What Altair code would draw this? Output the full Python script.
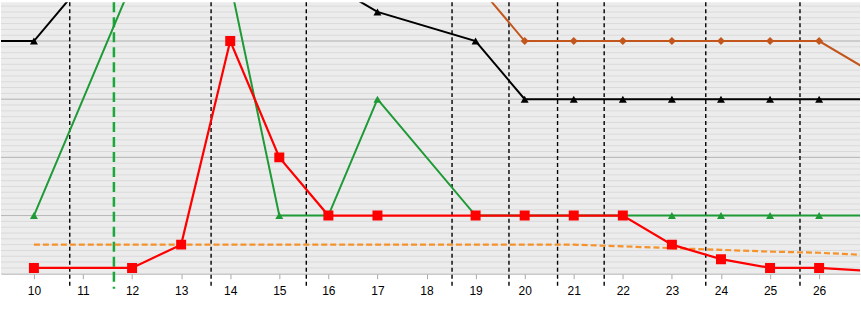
import altair as alt
import pandas as pd

# ---- data ----
red_x = [10, 12, 13, 14, 15, 16, 17, 19, 20, 21, 22, 23, 24, 25, 26, 27]
red_y = [1, 1, 5, 40, 20, 10, 10, 10, 10, 10, 10, 5, 2.5, 1, 1, 0.5]

green_x = [10, 12, 14, 15, 16, 17, 19, 20, 21, 22, 23, 24, 25, 26, 27]
green_y = [10, 50, 50, 10, 10, 30, 10, 10, 10, 10, 10, 10, 10, 10, 10]

black_x = [9, 10, 11, 16, 17, 19, 20, 21, 22, 23, 24, 25, 26, 27]
black_y = [40, 40, 50, 50, 45, 40, 30, 30, 30, 30, 30, 30, 30, 30]

brown_x = [19, 20, 21, 22, 23, 24, 25, 26, 27]
brown_y = [50, 40, 40, 40, 40, 40, 40, 40, 35]

avg_x = [10, 11, 12, 13, 14, 15, 16, 17, 18, 19, 20, 21, 22, 23, 24, 25, 26, 27]
avg_y = [5, 5, 5, 5, 5, 5, 5, 5, 5, 5, 5, 5, 4.7, 4.4, 4.1, 3.8, 3.6, 3.2]

event_x = [10.73, 13.61, 15.55, 18.52, 19.68, 20.67, 21.62, 23.69, 25.61]
today_x = [11.63]

tick_values = list(range(10, 27))
minor_grid = list(range(0, 47))
major_grid = [10, 20, 30, 40]

X_DOMAIN = [9.329, 26.833]
Y_DOMAIN = [0, 46.65]

xs = alt.Scale(domain=X_DOMAIN, nice=False, zero=False)
ys = alt.Scale(domain=Y_DOMAIN, nice=False, zero=False)

x_axis = alt.Axis(
    values=tick_values,
    grid=False,
    title=None,
    domainColor="#b0b0b0",
    tickColor="#a8a8a8",
    tickSize=5,
    labelFont="Liberation Sans",
    labelFontSize=12,
    labelColor="#000000",
    labelPadding=7,
    labelFlush=False,
    labelOverlap=False,
)


def df(x, y):
    return pd.DataFrame({"x": x, "y": y})


base_x = alt.X("x:Q", scale=xs, axis=x_axis)

# grid
minor = alt.Chart(pd.DataFrame({"g": minor_grid})).mark_rule(
    color="#dadada", strokeWidth=1
).encode(y=alt.Y("g:Q", scale=ys, axis=None))
major = alt.Chart(pd.DataFrame({"g": major_grid})).mark_rule(
    color="#b8b8b8", strokeWidth=1
).encode(y=alt.Y("g:Q", scale=ys, axis=None))


def series(x, y, color, shape=None, size=None, dash=None, width=2):
    line_kw = dict(color=color, strokeWidth=width, clip=True)
    if dash:
        line_kw["strokeDash"] = dash
    layers = [alt.Chart(df(x, y)).mark_line(**line_kw).encode(
        x=base_x, y=alt.Y("y:Q", scale=ys, axis=None))]
    if shape:
        layers.append(alt.Chart(df(x, y)).mark_point(
            shape=shape, size=size, filled=True, color=color, opacity=1, clip=True
        ).encode(x=base_x, y=alt.Y("y:Q", scale=ys, axis=None)))
    return layers


events = alt.Chart(pd.DataFrame({"x": event_x})).mark_rule(
    color="#000000", strokeWidth=1.4, strokeDash=[4, 3]
).encode(x=base_x, y=alt.value(0), y2=alt.value(286))

today = alt.Chart(pd.DataFrame({"x": today_x})).mark_rule(
    color="#1aa83a", strokeWidth=2.5, strokeDash=[10, 5]
).encode(x=base_x, y=alt.value(0), y2=alt.value(287))

layers = [minor, major, events, today]
layers += series(avg_x, avg_y, "#f5922b", dash=[6, 3], width=2.2)
layers += series(black_x, black_y, "#000000", "triangle-up", 64)
layers += series(brown_x, brown_y, "#c2561c", "diamond", 64)
layers += series(green_x, green_y, "#1e9a36", "triangle-up", 64)
layers += series(red_x, red_y, "#ff0000", "square", 100, width=2.2)

chart = alt.layer(*layers).properties(
    width=861, height=272, padding=0, autosize=alt.AutoSizeParams(type="pad")
).configure_view(fill="#ececec", stroke=None)

chart.save("out.html", embed_options={"renderer": "svg", "actions": False})
